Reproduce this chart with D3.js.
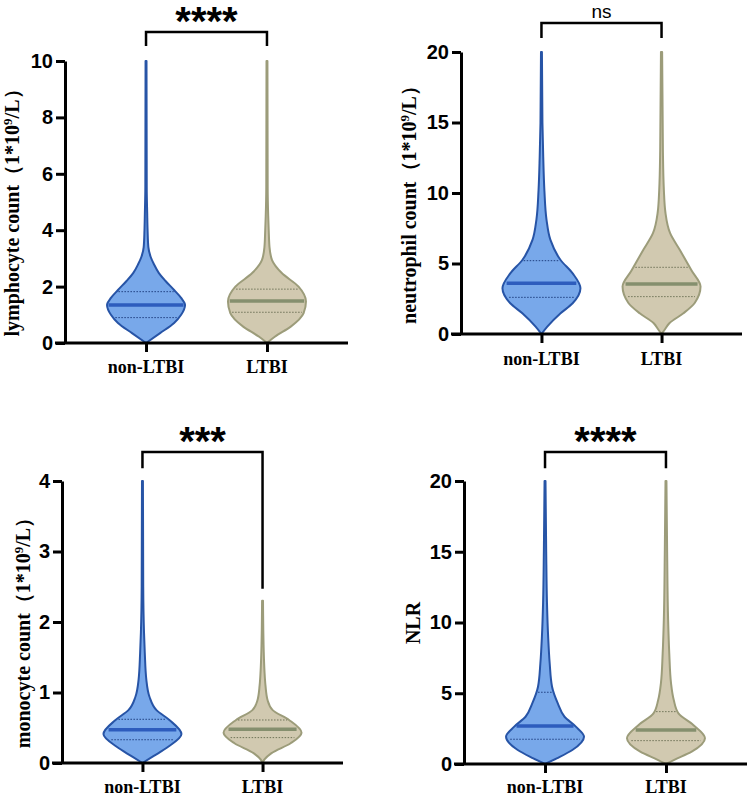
<!DOCTYPE html>
<html>
<head>
<meta charset="utf-8">
<script src="https://cdn.jsdelivr.net/npm/d3@7"></script>
<style>
  body { margin: 0; background: #fff; }
</style>
</head>
<body>
<svg id="chart" width="750" height="796"></svg>
<script>
const groups = ['non-LTBI', 'LTBI']

// violin outlines: [value, relative density (1 = widest)]
const lymphNon = [[0, 0], [0.35, 0.36], [0.71, 0.72], [1.0, 0.9], [1.35, 1.0], [1.6, 0.9], [1.88, 0.72], [2.2, 0.5], [2.48, 0.33], [2.8, 0.2], [3.05, 0.12], [3.4, 0.06], [4.0, 0.04], [4.6, 0.03], [5.5, 0.018], [10, 0.012]]
const lymphLtbi = [[0, 0], [0.22, 0.2], [0.58, 0.61], [1.06, 0.94], [1.47, 1.0], [2.0, 0.81], [2.48, 0.38], [2.94, 0.13], [3.4, 0.065], [4.0, 0.045], [4.5, 0.032], [5.5, 0.018], [10, 0.012]]
const neutNon = [[0, 0], [0.52, 0.15], [1.47, 0.49], [2.18, 0.8], [3.24, 1.0], [4.3, 0.8], [5.25, 0.49], [6.67, 0.23], [8.1, 0.13], [10.2, 0.075], [12.6, 0.045], [15, 0.025], [20, 0.012]]
const neutLtbi = [[0, 0], [0.3, 0.08], [0.76, 0.2], [1.47, 0.56], [2.2, 0.85], [3.36, 1.0], [4.5, 0.77], [5.96, 0.47], [7.15, 0.22], [8.6, 0.1], [10.2, 0.06], [13, 0.035], [20, 0.015]]
const monoNon = [[0, 0], [0.09, 0.26], [0.23, 0.66], [0.41, 1.0], [0.61, 0.69], [0.75, 0.36], [0.94, 0.18], [1.18, 0.1], [1.56, 0.06], [1.85, 0.04], [2.5, 0.02], [4, 0.012]]
const monoLtbi = [[0, 0], [0.05, 0.05], [0.14, 0.23], [0.28, 0.72], [0.43, 1.0], [0.61, 0.68], [0.75, 0.26], [0.89, 0.13], [1.1, 0.075], [1.3, 0.05], [1.6, 0.03], [2.3, 0.012]]
const nlrNon = [[0, 0], [0.4, 0.3], [0.99, 0.7], [1.93, 1.0], [2.64, 0.79], [3.34, 0.5], [4.27, 0.33], [5.46, 0.18], [7.1, 0.12], [9, 0.08], [11.4, 0.05], [15, 0.03], [20, 0.012]]
const nlrLtbi = [[0, 0], [0.28, 0.2], [0.87, 0.66], [1.82, 1.0], [2.76, 0.7], [3.58, 0.32], [4.52, 0.2], [5.7, 0.13], [7.8, 0.085], [10.2, 0.055], [15, 0.03], [20, 0.012]]

// quartiles [Q1, median, Q3] per group
const lymphQuart = [[0.90, 1.35, 1.82], [1.09, 1.49, 1.91]]
const neutQuart = [[2.6, 3.6, 5.2], [2.65, 3.55, 4.73]]
const monoQuart = [[0.33, 0.47, 0.62], [0.36, 0.48, 0.61]]
const nlrQuart = [[1.75, 2.69, 5.07], [1.65, 2.4, 3.7]]

const lymphTicks = [0, 2, 4, 6, 8, 10]
const neutTicks = [0, 5, 10, 15, 20]
const monoTicks = [0, 1, 2, 3, 4]
const nlrTicks = [0, 5, 10, 15, 20]

const yTitles = ['lymphocyte count', 'neutrophil count', 'monocyte count', 'NLR']
const sigLabels = ['****', 'ns', '***', '****']
// bracket: [top, left leg end, right leg end] in data units
const brackets = [[11.03, 10.53, 10.53], [22.06, 21.0, 21.0], [4.41, 4.18, 2.47], [22.05, 20.9, 20.9]]

const panelData = [
  { violins: [lymphNon, lymphLtbi], quart: lymphQuart, ticks: lymphTicks },
  { violins: [neutNon, neutLtbi], quart: neutQuart, ticks: neutTicks },
  { violins: [monoNon, monoLtbi], quart: monoQuart, ticks: monoTicks },
  { violins: [nlrNon, nlrLtbi], quart: nlrQuart, ticks: nlrTicks }
]

const layout = [
  { x0: 65, x1: 348, top: 61, bottom: 343, titleX: 19, titleY: 208, labelY: 373 },
  { x0: 461, x1: 742, top: 52, bottom: 334, titleX: 416, titleY: 200, labelY: 365 },
  { x0: 62, x1: 343, top: 481, bottom: 763, titleX: 30, titleY: 628, labelY: 793 },
  { x0: 464, x1: 747, top: 481, bottom: 764, titleX: 420, titleY: 623, labelY: 793 }
]

const palette = [
  { fill: '#78a8ea', stroke: '#2754a6', median: '#2d5cbd', quart: '#1f3f80' },
  { fill: '#d1c9b0', stroke: '#9c9c7a', median: '#858f6e', quart: '#6f7358' }
]
const maxHalf = 39

const svg = d3.select('#chart')

panelData.forEach((p, i) => {
  const L = layout[i]
  const g = svg.append('g')
  const yMax = p.ticks[p.ticks.length - 1]
  const y = d3.scaleLinear().domain([0, yMax]).range([L.bottom, L.top])
  const x = d3.scalePoint().domain(groups).range([L.x0, L.x1]).padding(0.67)
  const w = d3.scaleLinear().domain([0, 1]).range([0, maxHalf])

  // violins
  p.violins.forEach((prof, k) => {
    const cx = x(groups[k])
    const col = palette[k]
    const area = d3.area()
      .y(d => y(d[0]))
      .x0(d => cx - w(d[1]))
      .x1(d => cx + w(d[1]))
      .curve(d3.curveMonotoneY)
    g.append('path')
      .attr('d', area(prof))
      .attr('fill', col.fill)
      .attr('stroke', col.stroke)
      .attr('stroke-width', 2)
      .attr('stroke-linejoin', 'round')

    const dens = d3.scaleLinear().domain(prof.map(d => d[0])).range(prof.map(d => d[1]))
    const q = p.quart[k]
    ;[q[0], q[2]].forEach(v => {
      const hw = w(dens(v)) - 2
      g.append('line')
        .attr('x1', cx - hw).attr('x2', cx + hw)
        .attr('y1', y(v)).attr('y2', y(v))
        .attr('stroke', col.quart)
        .attr('stroke-width', 1)
        .attr('stroke-dasharray', '1.5,1.5')
    })
    const hm = w(dens(q[1])) - 1.5
    g.append('line')
      .attr('x1', cx - hm).attr('x2', cx + hm)
      .attr('y1', y(q[1])).attr('y2', y(q[1]))
      .attr('stroke', col.median)
      .attr('stroke-width', 3.5)
  })

  // y axis
  const yAxis = g.append('g')
    .attr('transform', `translate(${L.x0},0)`)
    .call(d3.axisLeft(y).tickValues(p.ticks).tickFormat(d3.format('d'))
      .tickSize(9).tickPadding(3).tickSizeOuter(0))
  yAxis.select('.domain').attr('stroke', '#000').attr('stroke-width', 3)
  yAxis.selectAll('.tick line').attr('stroke', '#000').attr('stroke-width', 3)
  yAxis.selectAll('.tick text')
    .attr('fill', '#000')
    .attr('font-family', 'Liberation Sans, Arial, sans-serif')
    .attr('font-weight', 'bold')
    .attr('font-size', 20)

  // x axis
  const xAxis = g.append('g')
    .attr('transform', `translate(0,${L.bottom})`)
    .call(d3.axisBottom(x).tickSize(9).tickSizeOuter(0).tickFormat(''))
  xAxis.select('.domain').attr('d', `M${L.x0 - 10},0H${L.x1}`).attr('stroke', '#000').attr('stroke-width', 3)
  xAxis.selectAll('.tick line').attr('stroke', '#000').attr('stroke-width', 3)

  groups.forEach(name => {
    g.append('text')
      .attr('x', x(name))
      .attr('y', L.labelY)
      .attr('text-anchor', 'middle')
      .attr('font-family', 'Liberation Serif, Times New Roman, serif')
      .attr('font-weight', 'bold')
      .attr('font-size', 18)
      .text(name)
  })

  // y title
  const t = g.append('text')
    .attr('transform', `translate(${L.titleX},${L.titleY}) rotate(-90)`)
    .attr('text-anchor', 'middle')
    .attr('font-family', 'Liberation Serif, Times New Roman, serif')
    .attr('font-weight', 'bold')
    .attr('font-size', 20)
  t.append('tspan').text(yTitles[i])
  if (i !== 3) {
    t.append('tspan').text('（1*10')
    t.append('tspan').attr('font-size', 13).attr('dy', -7).text('9')
    t.append('tspan').attr('dy', 7).text('/L）')
  }

  // significance bracket
  const b = brackets[i]
  const xa = x(groups[0]), xb = x(groups[1])
  g.append('path')
    .attr('d', `M${xa},${y(b[1])}V${y(b[0])}H${xb}V${y(b[2])}`)
    .attr('fill', 'none')
    .attr('stroke', '#000')
    .attr('stroke-width', 2.5)
  const isNs = sigLabels[i] === 'ns'
  g.append('text')
    .attr('x', (xa + xb) / 2)
    .attr('y', isNs ? y(b[0]) - 5 : y(b[0]) + 3)
    .attr('text-anchor', 'middle')
    .attr('font-family', 'Liberation Sans, Arial, sans-serif')
    .attr('font-weight', isNs ? 'normal' : 'bold')
    .attr('font-size', isNs ? 19 : 40)
    .text(sigLabels[i])
})
</script>
</body>
</html>
